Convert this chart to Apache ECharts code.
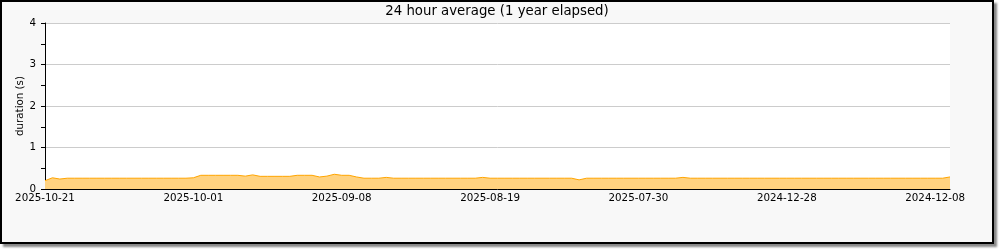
<!DOCTYPE html>
<html>
<head>
<meta charset="utf-8">
<script src="https://cdn.jsdelivr.net/npm/echarts@6/dist/echarts.min.js"></script>
<style>
  html, body { margin: 0; padding: 0; background: #ffffff; }
  #box {
    position: absolute; left: 0; top: 0;
    width: 990px; height: 240px;
    border: 2px solid #000;
    background: #f8f8f8;
    box-shadow: 3px 3px 2px #888;
  }
  #chart { width: 990px; height: 240px; }
</style>
</head>
<body>
<div id="box"><div id="chart"></div></div>
<script>
// Tick labels shown on the x axis (every 20th category)
const tickLabels = ["2025-10-21", "2025-10-01", "2025-09-08", "2025-08-19", "2025-07-30", "2024-12-28", "2024-12-08"];

// 24 hour average duration (s), one value per category
const durations = [
  0.20, 0.27, 0.24, 0.26, 0.26, 0.26, 0.26, 0.26, 0.26, 0.26,
  0.26, 0.26, 0.26, 0.26, 0.26, 0.26, 0.26, 0.26, 0.26, 0.26,
  0.27, 0.33, 0.33, 0.33, 0.33, 0.33, 0.33, 0.31, 0.34, 0.305,
  0.305, 0.305, 0.305, 0.305, 0.33, 0.33, 0.33, 0.29, 0.31, 0.355,
  0.33, 0.33, 0.29, 0.26, 0.26, 0.26, 0.28, 0.26, 0.26, 0.26,
  0.26, 0.26, 0.26, 0.26, 0.26, 0.26, 0.26, 0.26, 0.26, 0.28,
  0.26, 0.26, 0.26, 0.26, 0.26, 0.26, 0.26, 0.26, 0.26, 0.26,
  0.26, 0.26, 0.22, 0.26, 0.26, 0.26, 0.26, 0.26, 0.26, 0.26,
  0.26, 0.26, 0.26, 0.26, 0.26, 0.26, 0.28, 0.26, 0.26, 0.26,
  0.26, 0.26, 0.26, 0.26, 0.26, 0.26, 0.26, 0.26, 0.26, 0.26,
  0.26, 0.26, 0.26, 0.26, 0.26, 0.26, 0.26, 0.26, 0.26, 0.26,
  0.26, 0.26, 0.26, 0.26, 0.26, 0.26, 0.26, 0.26, 0.26, 0.26,
  0.26, 0.26, 0.29
];

const titleText = "24 hour average (1 year elapsed)";
const yAxisName = "duration (s)";

// Category dates: each labelled date followed by the preceding days
function shiftDate(s, days) {
  const d = new Date(s + "T00:00:00Z");
  d.setUTCDate(d.getUTCDate() - days);
  return d.toISOString().slice(0, 10);
}
const categories = durations.map((_, i) => shiftDate(tickLabels[Math.floor(i / 20)], i % 20));

const font = "DejaVu Sans";
const chart = echarts.init(document.getElementById("chart"), null, { renderer: "canvas" });
chart.setOption({
  animation: false,
  backgroundColor: "transparent",
  title: {
    text: titleText,
    left: "center",
    top: -2,
    textStyle: { fontFamily: font, fontSize: 13.3, fontWeight: "normal", color: "#000" }
  },
  grid: {
    left: 43, right: 42, top: 21, bottom: 53,
    show: true, backgroundColor: "#ffffff", borderWidth: 0
  },
  xAxis: {
    type: "category",
    data: categories,
    boundaryGap: false,
    axisLine: { lineStyle: { color: "#000", width: 1 } },
    axisTick: { show: true, inside: true, length: 5, interval: 9, lineStyle: { color: "#000" } },
    axisLabel: { interval: 19, color: "#000", fontFamily: font, fontSize: 10.3, margin: 4 },
    splitLine: { show: false }
  },
  yAxis: {
    type: "value",
    min: 0, max: 4, interval: 1,
    name: yAxisName,
    nameLocation: "middle",
    nameRotate: 90,
    nameGap: 20,
    nameMoveOverlap: false,
    nameTextStyle: { fontFamily: font, fontSize: 10.3, color: "#000" },
    axisLine: { show: true, lineStyle: { color: "#000", width: 1 } },
    axisTick: { show: true, length: 4, lineStyle: { color: "#000" } },
    minorTick: { show: true, splitNumber: 2, length: 4, lineStyle: { color: "#000" } },
    axisLabel: { color: "#000", fontFamily: font, fontSize: 10.3, margin: 9 },
    splitLine: { show: true, lineStyle: { color: "#cccccc", width: 1 } }
  },
  series: [{
    type: "line",
    data: durations,
    symbol: "none",
    lineStyle: { color: "#ffa500", width: 1 },
    areaStyle: { color: "#ffd280", opacity: 1 },
    z: 1
  }]
});
</script>
</body>
</html>
